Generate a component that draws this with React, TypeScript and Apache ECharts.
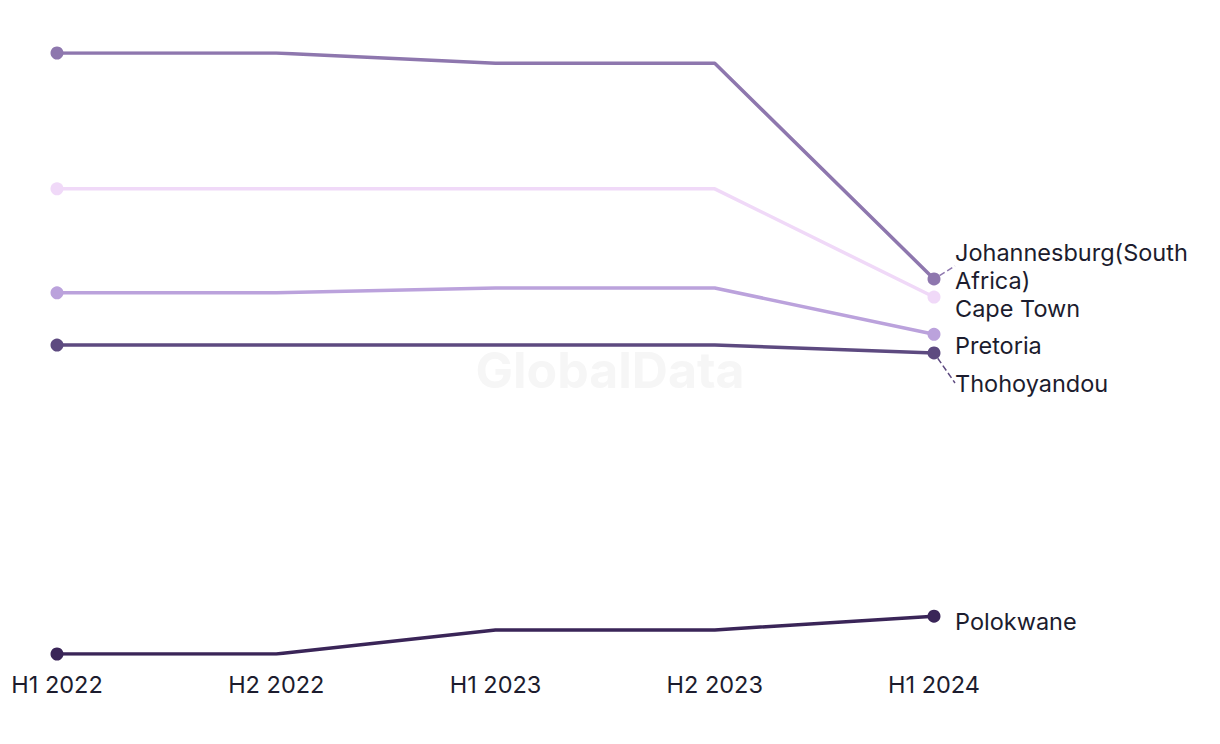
import React, { useEffect, useRef } from "react";
import * as echarts from "echarts";

const categories = ["H1 2022", "H2 2022", "H1 2023", "H2 2023", "H1 2024"];
const seriesNames = ["Johannesburg(South Africa)", "Cape Town", "Pretoria", "Thohoyandou", "Polokwane"];
const johannesburg = [100, 100, 98.3, 98.3, 62.4];
const capeTown = [77.4, 77.4, 77.4, 77.4, 59.4];
const pretoria = [60.1, 60.1, 60.9, 60.9, 53.2];
const thohoyandou = [51.4, 51.4, 51.4, 51.4, 50.1];
const polokwane = [0, 0, 4.0, 4.0, 6.3];
const seriesValues = [johannesburg, capeTown, pretoria, thohoyandou, polokwane];
const colors = ["#8e77ae", "#f0d9f8", "#bba2dc", "#5d4a80", "#3a2558"];
const labelCenters = [266, 308, 345, 383, 621];
const labelLineHeights = [28, 20, 22, 22, 22];
const showLine = [true, false, false, true, false];

export default function App() {
  const ref = useRef<HTMLDivElement>(null);
  useEffect(() => {
    if (!ref.current) return;
    const chart = echarts.init(ref.current, undefined, { renderer: "svg" });
    const font = "Inter, 'Noto Sans', sans-serif";
    chart.setOption({
      animation: false,
      graphic: [
        {
          type: "text",
          left: "center",
          top: 345,
          z: -1,
          style: { text: "GlobalData", fontSize: 50, fontWeight: "bold", fill: "#f6f6f6", fontFamily: "Inter, sans-serif" },
        },
      ],
      grid: { left: 57, right: 286, top: 53, bottom: 90 },
      xAxis: {
        type: "category",
        data: categories,
        boundaryGap: false,
        axisLine: { show: false },
        axisTick: { show: false },
        axisLabel: { fontSize: 23.5, color: "#1c1c2e", margin: 18, fontFamily: font },
      },
      yAxis: { type: "value", min: 0, max: 100, show: false, splitLine: { show: false } },
      series: seriesValues.map((vals, i) => ({
        type: "line",
        name: seriesNames[i],
        color: colors[i],
        lineStyle: { width: 3.5, color: colors[i] },
        itemStyle: { color: colors[i] },
        symbol: "circle",
        symbolSize: 13,
        data: vals.map((v, j) => {
          if (j === 0) return { value: v };
          if (j === vals.length - 1)
            return {
              value: v,
              label: {
                show: true,
                position: "right",
                distance: 20,
                formatter: seriesNames[i],
                fontSize: 23.5,
                color: "#1c1c2e",
                fontFamily: font,
                width: 250,
                overflow: "break",
                lineHeight: labelLineHeights[i],
              },
              labelLine: { show: showLine[i], lineStyle: { type: "dashed", color: colors[i], width: 1.5 } },
            };
          return { value: v, symbol: "none" };
        }),
        labelLayout: () => ({ x: 955, y: labelCenters[i], align: "left", verticalAlign: "middle" }),
        labelLine: { show: showLine[i], lineStyle: { type: "dashed", width: 1.5 } },
      })),
    });
    return () => chart.dispose();
  }, []);
  return <div ref={ref} style={{ position: "absolute", left: 0, top: 0, width: 1220, height: 744 }} />;
}
